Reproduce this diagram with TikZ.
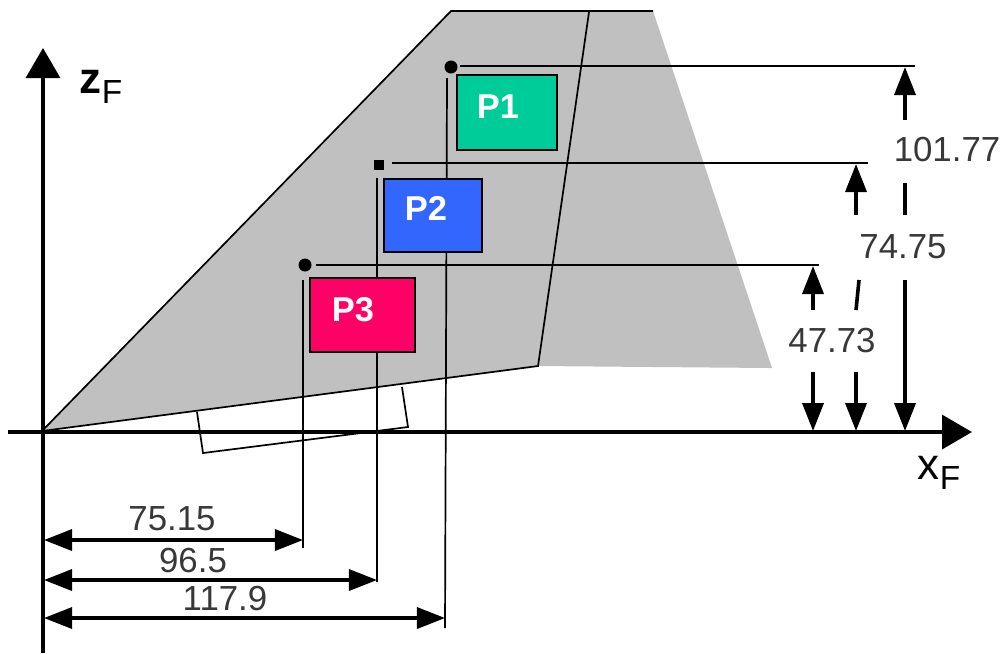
\documentclass[tikz,border=0pt]{standalone}
\usepackage{fontspec}
\setmainfont{Liberation Sans}
\usetikzlibrary{arrows.meta}
\definecolor{wing}{HTML}{C0C0C0}
\definecolor{dimtext}{HTML}{383838}
\tikzset{
  axisline/.style={line width=.34mm,-{Triangle[length=3mm,width=3.4mm]}},
  dimline/.style={line width=.36mm,-{Triangle[length=2.8mm,width=2.1mm]}},
  dimboth/.style={line width=.34mm,{Triangle[length=2.8mm,width=2.1mm]}-{Triangle[length=2.8mm,width=2.1mm]}},
  plainbar/.style={line width=.36mm},
  helpline/.style={line width=.17mm},
  partbox/.style={draw=black,line width=.17mm,inner sep=0pt,anchor=north west},
  partname/.style={text=white,font=\fontsize{9.8}{12}\selectfont\bfseries},
  dimlabel/.style={text=dimtext,font=\fontsize{9.9}{12}\selectfont,inner sep=0pt},
  axislabel/.style={font=\fontsize{12.5}{15}\selectfont,inner sep=0pt},
}
\begin{document}
\begin{tikzpicture}[x=.01cm,y=-.01cm]
  \useasboundingbox (0,0) rectangle (1001,653);
  % outline of the surface
  \coordinate (o) at (42,431);
  \coordinate (tl) at (451,11);
  \coordinate (tr) at (653,11);
  \coordinate (br) at (772,368);
  \coordinate (bm) at (538,366);
  \coordinate (tm) at (589,12);
  \fill[wing] (o) -- (tl) -- (tr) -- (br) -- (bm) -- cycle;
  \draw[helpline] (o) -- (tl) -- (tr);
  \draw[helpline] (tm) -- (bm) -- (o);
  % flap under the lower edge
  \coordinate (fa) at (197,412);
  \coordinate (fb) at (203,453);
  \coordinate (fc) at (408,427);
  \coordinate (fd) at (402,387);
  \draw[helpline] (fa) -- (fb) -- (fc) -- (fd);
  % reference points
  \node[circle,fill=black,inner sep=0pt,minimum size=.13cm] (pta) at (451,67) {};
  \node[rectangle,fill=black,inner sep=0pt,minimum size=.1cm] (ptb) at (379,165) {};
  \node[circle,fill=black,inner sep=0pt,minimum size=.13cm] (ptc) at (305,265) {};
  % helper lines
  \coordinate (ha) at (460,66);
  \coordinate (hae) at (915,66);
  \coordinate (hb) at (392,163);
  \coordinate (hbe) at (868,163);
  \coordinate (hc) at (316,265);
  \coordinate (hce) at (819,265);
  \coordinate (va) at (447,78);
  \coordinate (vae) at (445,628);
  \coordinate (vb) at (377,178);
  \coordinate (vbe) at (377,582);
  \coordinate (vc) at (303,280);
  \coordinate (vce) at (303,548);
  \begin{scope}[every path/.style={helpline}]
    \path[draw] (ha) -- (hae);
    \path[draw] (hb) -- (hbe);
    \path[draw] (hc) -- (hce);
    \path[draw] (va) -- (vae);
    \path[draw] (vb) -- (vbe);
    \path[draw] (vc) -- (vce);
  \end{scope}
  % boxes
  \node[partbox,fill={rgb,255:red,0;green,204;blue,153},minimum width=1cm,minimum height=.75cm] (boxa) at (456,74) {};
  \node[partbox,fill={rgb,255:red,51;green,102;blue,255},minimum width=.98cm,minimum height=.73cm] (boxb) at (383,178) {};
  \node[partbox,fill={rgb,255:red,255;green,0;blue,102},minimum width=1.05cm,minimum height=.74cm] (boxc) at (309,277) {};
  \node[partname] (namea) at (498,107) {P1};
  \node[partname] (nameb) at (426,208) {P2};
  \node[partname] (namec) at (353,310) {P3};
  % axes
  \coordinate (xs) at (8,432);
  \coordinate (xe) at (972,432);
  \coordinate (zs) at (43,653);
  \coordinate (ze) at (43,48);
  \draw[axisline] (xs) -- (xe);
  \draw[axisline] (zs) -- (ze);
  \node[axislabel] (xname) at (939,473) {x\raisebox{-.4ex}{\fontsize{9.5}{12}\selectfont F}};
  \node[axislabel] (zname) at (101,87) {\textbf{z}\raisebox{-.4ex}{\fontsize{9.5}{12}\selectfont F}};
  % vertical dimensions
  \node[dimlabel] (dima) at (947,149) {101.77};
  \node[dimlabel] (dimb) at (903,247) {74.75};
  \node[dimlabel] (dimc) at (832,340) {47.73};
  \coordinate (aup) at (905,120);
  \coordinate (atop) at (905,67);
  \coordinate (amida) at (905,183);
  \coordinate (amidb) at (905,215);
  \coordinate (alow) at (905,280);
  \coordinate (abot) at (905,431);
  \coordinate (bup) at (856,215);
  \coordinate (btop) at (856,164);
  \coordinate (bmida) at (859,280);
  \coordinate (bmidb) at (856,310);
  \coordinate (blow) at (856,372);
  \coordinate (bbot) at (856,431);
  \coordinate (cup) at (813,310);
  \coordinate (ctop) at (813,266);
  \coordinate (clow) at (813,372);
  \coordinate (cbot) at (813,431);
  \draw[dimline] (aup) -- (atop);
  \draw[plainbar] (amida) -- (amidb);
  \draw[dimline] (alow) -- (abot);
  \draw[dimline] (bup) -- (btop);
  \draw[plainbar] (bmida) -- (bmidb);
  \draw[dimline] (blow) -- (bbot);
  \draw[dimline] (cup) -- (ctop);
  \draw[dimline] (clow) -- (cbot);
  % horizontal dimensions
  \coordinate (ld) at (44,540);
  \coordinate (rd) at (303,540);
  \coordinate (le) at (44,580);
  \coordinate (re) at (377,580);
  \coordinate (lf) at (44,618);
  \coordinate (rf) at (445,618);
  \draw[dimboth] (ld) -- (rd);
  \draw[dimboth] (le) -- (re);
  \draw[dimboth] (lf) -- (rf);
  \node[dimlabel] (dimd) at (172,519) {75.15};
  \node[dimlabel] (dime) at (193,560) {96.5};
  \node[dimlabel] (dimf) at (225,598) {117.9};
\end{tikzpicture}
\end{document}
